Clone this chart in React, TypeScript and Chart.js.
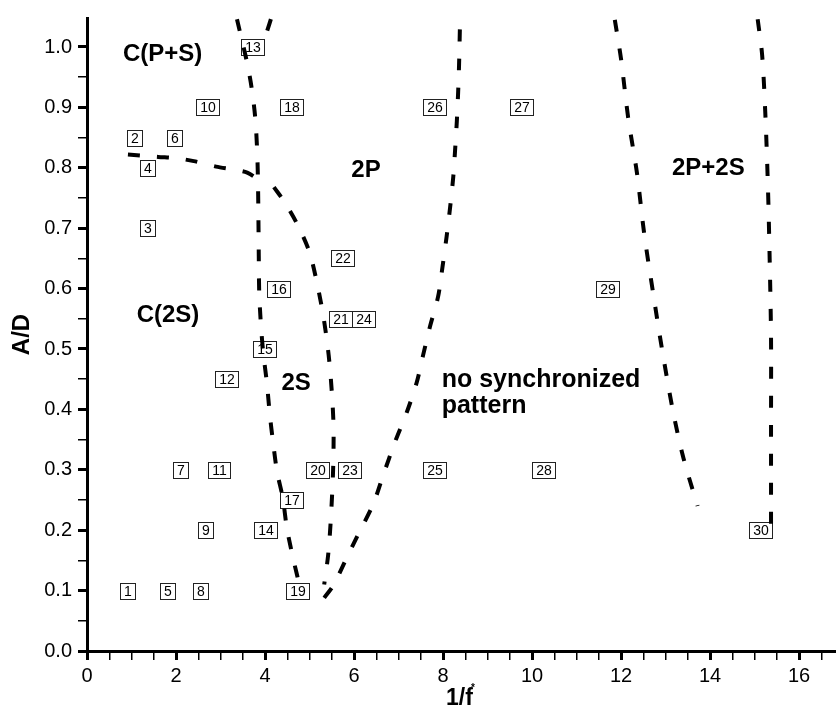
import React, { useEffect, useRef } from 'react';
import { Chart, registerables } from 'chart.js';

Chart.register(...registerables);

const FONT = '"Liberation Sans", Arial, Helvetica, sans-serif';

// Simulation cases: id, 1/f* and A/D
const caseIds = [
  1, 2, 3, 4, 5, 6, 7, 8, 9, 10,
  11, 12, 13, 14, 15, 16, 17, 18, 19, 20,
  21, 22, 23, 24, 25, 26, 27, 28, 29, 30,
];
const caseX = [
  0.92, 1.06, 1.36, 1.36, 1.81, 1.96, 2.1, 2.54, 2.67, 2.7,
  2.97, 3.14, 3.71, 4.0, 3.98, 4.3, 4.6, 4.6, 4.73, 5.19,
  5.69, 5.75, 5.89, 6.22, 7.8, 7.8, 9.76, 10.25, 11.7, 15.13,
];
const caseY = [
  0.1, 0.85, 0.7, 0.8, 0.1, 0.85, 0.3, 0.1, 0.2, 0.9,
  0.3, 0.45, 1.0, 0.2, 0.5, 0.6, 0.25, 0.9, 0.1, 0.3,
  0.55, 0.65, 0.3, 0.55, 0.3, 0.9, 0.9, 0.3, 0.6, 0.2,
];

// Regime boundaries (1/f*, A/D)
const boundaryCps: [number, number][] = [
  [0.92, 0.822], [1.6, 0.818], [2.0, 0.816], [2.4, 0.811],
  [2.9, 0.802], [3.3, 0.797], [3.6, 0.792], [3.9, 0.778],
];
const boundary2sLeft: [number, number][] = [
  [3.37, 1.046], [3.6, 0.973], [3.7, 0.932], [3.78, 0.883], [3.82, 0.834],
  [3.84, 0.785], [3.85, 0.73], [3.86, 0.653], [3.87, 0.593], [3.91, 0.538],
  [3.96, 0.494], [4.04, 0.445], [4.11, 0.39], [4.18, 0.346], [4.27, 0.297],
  [4.4, 0.253], [4.49, 0.204], [4.63, 0.154], [4.82, 0.095],
];
const boundaryTop: [number, number][] = [
  [4.05, 1.027], [4.14, 1.048],
];
const boundary2sRight: [number, number][] = [
  [4.2, 0.768], [4.45, 0.742], [4.75, 0.703], [5.0, 0.66], [5.18, 0.605],
  [5.32, 0.55], [5.43, 0.49], [5.5, 0.43], [5.54, 0.37], [5.53, 0.3],
  [5.48, 0.22], [5.42, 0.16], [5.33, 0.11],
];
const boundary2p: [number, number][] = [
  [5.33, 0.088], [5.53, 0.108], [5.84, 0.155], [6.1, 0.194], [6.43, 0.243],
  [6.66, 0.292], [6.92, 0.346], [7.19, 0.396], [7.41, 0.445], [7.55, 0.489],
  [7.71, 0.538], [7.89, 0.587], [7.99, 0.637], [8.08, 0.686], [8.16, 0.735],
  [8.23, 0.785], [8.27, 0.828], [8.31, 0.877], [8.34, 0.926], [8.36, 0.97],
  [8.38, 1.035],
];
const boundary2p2sLeft: [number, number][] = [
  [11.86, 1.045], [12.0, 0.98], [12.16, 0.883], [12.36, 0.79], [12.52, 0.691],
  [12.72, 0.593], [12.92, 0.5], [13.17, 0.396], [13.4, 0.32], [13.72, 0.24],
];
const boundary2p2sRight: [number, number][] = [
  [15.07, 1.046], [15.17, 0.987], [15.24, 0.893], [15.3, 0.77],
  [15.34, 0.647], [15.37, 0.52], [15.37, 0.37], [15.37, 0.205],
];

const boundaries = [
  boundaryCps, boundary2sLeft, boundaryTop, boundary2sRight,
  boundary2p, boundary2p2sLeft, boundary2p2sRight,
];

// Regime names
const regionText = ['C(P+S)', '2P', 'C(2S)', '2S', '2P+2S', 'no synchronized', 'pattern'];
const regionX = [1.70, 6.27, 1.82, 4.70, 13.96, 7.97, 7.97];
const regionY = [0.988, 0.796, 0.556, 0.443, 0.799, 0.449, 0.405];
const regionAlign: CanvasTextAlign[] = ['center', 'center', 'center', 'center', 'center', 'left', 'left'];

// Axis tick labels
const xTickLabels = [0, 2, 4, 6, 8, 10, 12, 14, 16];
const yTickLabels = [0, 0.1, 0.2, 0.3, 0.4, 0.5, 0.6, 0.7, 0.8, 0.9, 1.0];

const near = (a: number, b: number) => Math.abs(a - b) < 1e-6;
const isXMajor = (v: number) => xTickLabels.some((t) => near(t, v));
const isYMajor = (v: number) => yTickLabels.some((t) => near(t, v));

const caseBoxes = {
  id: 'caseBoxes',
  beforeDatasetsDraw(chart: any) {
    const meta = chart.getDatasetMeta(0);
    const ctx = chart.ctx as CanvasRenderingContext2D;
    ctx.save();
    ctx.font = `14px ${FONT}`;
    ctx.textAlign = 'center';
    ctx.textBaseline = 'middle';
    meta.data.forEach((pt: any, i: number) => {
      const label = String(caseIds[i]);
      const w = Math.round(ctx.measureText(label).width + 7);
      const h = 16;
      const left = Math.round(pt.x - w / 2) + 0.5;
      const top = Math.round(pt.y - h / 2) + 0.5;
      ctx.fillStyle = '#ffffff';
      ctx.fillRect(left, top, w, h);
      ctx.strokeStyle = '#222222';
      ctx.lineWidth = 1;
      ctx.strokeRect(left, top, w, h);
      ctx.fillStyle = '#000000';
      ctx.fillText(label, left + w / 2, top + h / 2 + 1);
    });
    ctx.restore();
  },
};

const regionLabels = {
  id: 'regionLabels',
  afterDatasetsDraw(chart: any) {
    const ctx = chart.ctx as CanvasRenderingContext2D;
    const xs = chart.scales.x;
    const ys = chart.scales.y;
    ctx.save();
    ctx.fillStyle = '#000000';
    ctx.textBaseline = 'middle';
    regionText.forEach((t, i) => {
      ctx.font = `bold ${regionAlign[i] === 'left' ? 25 : 24}px ${FONT}`;
      ctx.textAlign = regionAlign[i];
      ctx.fillText(t, xs.getPixelForValue(regionX[i]), ys.getPixelForValue(regionY[i]));
    });
    ctx.restore();
  },
};

const xAxisTitle = {
  id: 'xAxisTitle',
  afterDraw(chart: any) {
    const ctx = chart.ctx as CanvasRenderingContext2D;
    const area = chart.chartArea;
    const cx = (area.left + area.right) / 2;
    ctx.save();
    ctx.fillStyle = '#000000';
    ctx.textBaseline = 'alphabetic';
    ctx.font = `bold 23px ${FONT}`;
    const main = '1/f';
    const w = ctx.measureText(main).width;
    ctx.textAlign = 'left';
    const x0 = cx - w / 2 - 2;
    const base = chart.height - 2;
    ctx.fillText(main, x0, base);
    ctx.font = `bold 10px ${FONT}`;
    ctx.fillText('*', x0 + w - 2, base - 14);
    ctx.restore();
  },
};

export default function App() {
  const canvasRef = useRef<HTMLCanvasElement | null>(null);

  useEffect(() => {
    document.body.style.margin = '0';
    const canvas = canvasRef.current;
    if (!canvas) return;

    const lineSets = boundaries.map((pts) => ({
      type: 'scatter' as const,
      data: pts.map(([x, y]) => ({ x, y })),
      showLine: true,
      borderColor: '#000000',
      borderWidth: 4,
      borderDash: [12, 17],
      borderCapStyle: 'butt' as const,
      tension: 0.3,
      pointRadius: 0,
      pointHoverRadius: 0,
      fill: false,
    }));

    const chart = new Chart(canvas, {
      type: 'scatter',
      data: {
        datasets: [
          {
            data: caseX.map((x, i) => ({ x, y: caseY[i] })),
            pointRadius: 0,
            pointHoverRadius: 0,
            showLine: false,
          } as any,
          ...lineSets,
        ],
      },
      options: {
        animation: false,
        responsive: false,
        devicePixelRatio: 1,
        events: [],
        layout: { padding: { top: 12, right: 0, bottom: 0, left: 0 } },
        plugins: {
          legend: { display: false },
          tooltip: { enabled: false },
        },
        scales: {
          x: {
            type: 'linear',
            min: 0,
            max: 16.83,
            afterFit: (s: any) => { s.height = 56; },
            border: { display: true, color: '#000000', width: 3 },
            grid: {
              drawOnChartArea: false,
              drawTicks: true,
              tickLength: 9,
              color: '#000000',
              lineWidth: (c: any) => (c.tick && isXMajor(c.tick.value) ? 3 : 1.5),
            },
            ticks: {
              stepSize: 0.5,
              autoSkip: false,
              includeBounds: false,
              maxRotation: 0,
              minRotation: 0,
              padding: 4,
              color: '#000000',
              font: { family: FONT, size: 20 },
              callback: (v: any) => (isXMajor(Number(v)) ? String(Math.round(Number(v))) : ''),
            },
          },
          y: {
            type: 'linear',
            min: 0,
            max: 1.048,
            afterFit: (s: any) => { s.width = 87; },
            border: { display: true, color: '#000000', width: 3 },
            grid: {
              drawOnChartArea: false,
              drawTicks: true,
              tickLength: 9,
              color: '#000000',
              lineWidth: (c: any) => (c.tick && isYMajor(c.tick.value) ? 3 : 1.5),
            },
            ticks: {
              stepSize: 0.05,
              autoSkip: false,
              includeBounds: false,
              padding: 6,
              color: '#000000',
              font: { family: FONT, size: 20 },
              callback: (v: any) => (isYMajor(Number(v)) ? Number(v).toFixed(1) : ''),
            },
            title: {
              display: true,
              text: 'A/D',
              color: '#000000',
              font: { family: FONT, size: 24, weight: 'bold' },
              padding: { top: 8, bottom: 0 },
            },
          },
        },
      },
      plugins: [caseBoxes, regionLabels, xAxisTitle],
    } as any);

    return () => chart.destroy();
  }, []);

  return (
    <canvas
      ref={canvasRef}
      width={836}
      height={707}
      style={{ display: 'block', width: 836, height: 707 }}
    />
  );
}
